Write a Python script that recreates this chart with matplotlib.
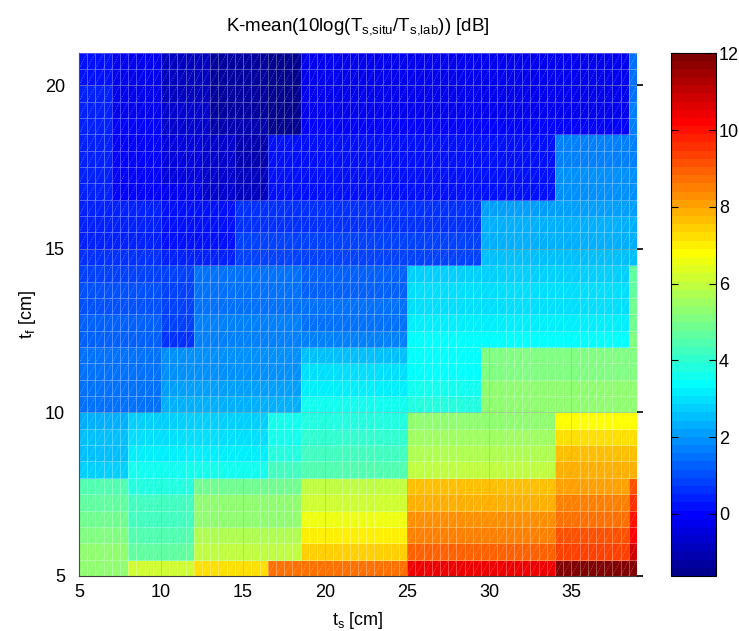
import numpy as np
import matplotlib
matplotlib.use("Agg")
import matplotlib.pyplot as plt
from matplotlib.colors import ListedColormap
from matplotlib.collections import LineCollection

plt.rcParams['font.family'] = ['Liberation Sans', 'DejaVu Sans']
plt.rcParams['mathtext.fontset'] = 'custom'
plt.rcParams['mathtext.rm'] = 'Liberation Sans'
plt.rcParams['mathtext.default'] = 'regular'

# ---- grid of the surface (cm) ----
ts_edges = np.arange(5.0, 39.01, 0.5)
tf_edges = np.arange(5.0, 21.01, 0.5)

# ---- data: bands of rows (tf ranges), column cuts (ts) and values per row (bottom->top) ----
band1_tf = (5.0, 5.5)
band1_cuts = [8, 12, 16.5, 25, 34, 39]
band1_vals = [[5.3, 6.2, 7.2, 8.7, 10.4, 11.9]]

band2_tf = (5.5, 8.0)
band2_cuts = [8, 12, 18.5, 25, 34, 38.5, 39]
band2_vals = [[5.2, 4.6, 6.0, 7.4, 9.0, 9.3, 10.8],
              [5.0, 4.5, 5.7, 7.1, 8.6, 9.1, 10.3],
              [4.8, 4.3, 5.4, 6.5, 8.3, 8.8, 10.0],
              [4.6, 4.2, 5.2, 6.2, 7.9, 8.4, 9.6],
              [4.5, 3.9, 4.8, 5.9, 7.6, 8.1, 9.2]]

band3_tf = (8.0, 10.0)
band3_cuts = [8, 16.5, 18.5, 25, 34, 39]
band3_vals = [[2.8, 3.5, 4.2, 4.5, 6.0, 7.9],
              [2.6, 3.1, 3.9, 4.3, 5.7, 7.6],
              [2.5, 2.9, 3.7, 4.1, 5.5, 7.2],
              [2.3, 2.8, 3.5, 3.9, 5.2, 6.9]]

band4_tf = (10.0, 12.0)
band4_cuts = [10, 18.5, 25, 29.5, 39]
band4_vals = [[1.5, 2.3, 3.5, 3.8, 5.4],
              [1.5, 2.1, 3.1, 3.6, 5.2],
              [1.4, 2.0, 2.9, 3.4, 5.1],
              [1.4, 1.9, 2.6, 3.3, 5.0]]

band5_tf = (12.0, 14.5)
band5_cuts = [10, 12, 18.5, 25, 38.5, 39]
band5_vals = [[1.3, 0.7, 1.6, 1.6, 3.4, 5.0],
              [1.2, 0.8, 1.6, 1.5, 3.2, 4.9],
              [1.1, 0.9, 1.5, 1.4, 3.0, 4.8],
              [1.0, 0.9, 1.5, 1.3, 2.9, 4.7],
              [0.9, 0.9, 1.4, 1.2, 2.8, 4.6]]

band6_tf = (14.5, 16.5)
band6_cuts = [10, 14.5, 29.5, 39]
band6_vals = [[0.55, 0.3, 0.8, 2.5],
              [0.5, 0.25, 0.8, 2.4],
              [0.45, 0.2, 0.7, 2.3],
              [0.4, 0.15, 0.7, 2.2]]

band7_tf = (16.5, 18.5)
band7_cuts = [7, 10, 12.5, 14.5, 16.5, 34, 39]
band7_vals = [[0.45, 0.05, -0.3, -0.6, -0.9, 0.25, 1.8],
              [0.4, 0.0, -0.35, -0.65, -0.95, 0.2, 1.8],
              [0.35, -0.05, -0.4, -0.7, -1.0, 0.15, 1.7],
              [0.3, -0.1, -0.45, -0.75, -1.05, 0.1, 1.7]]

band8_tf = (18.5, 21.0)
band8_cuts = [7, 10, 13, 16.5, 18.5, 38.5, 39]
band8_vals = [[0.4, -0.1, -0.7, -1.15, -1.5, -0.1, 1.6],
              [0.35, -0.15, -0.75, -1.2, -1.55, -0.15, 1.6],
              [0.3, -0.2, -0.8, -1.25, -1.55, -0.2, 1.5],
              [0.25, -0.25, -0.85, -1.3, -1.6, -0.2, 1.5],
              [0.2, -0.3, -0.9, -1.3, -1.6, -0.25, 1.5]]

bands = [(band1_tf, band1_cuts, band1_vals), (band2_tf, band2_cuts, band2_vals),
         (band3_tf, band3_cuts, band3_vals), (band4_tf, band4_cuts, band4_vals),
         (band5_tf, band5_cuts, band5_vals), (band6_tf, band6_cuts, band6_vals),
         (band7_tf, band7_cuts, band7_vals), (band8_tf, band8_cuts, band8_vals)]

c_min, c_max = -1.62, 12.02
ts_ticks = [5, 10, 15, 20, 25, 30, 35]
tf_ticks = [5, 10, 15, 20]
cb_ticks = [0, 2, 4, 6, 8, 10, 12]

# ---- assemble matrix ----
ts_c = 0.5 * (ts_edges[:-1] + ts_edges[1:])
tf_c = 0.5 * (tf_edges[:-1] + tf_edges[1:])
Z = np.full((len(tf_c), len(ts_c)), np.nan)
for (tf0, tf1), cuts, vals in bands:
    rows = np.where((tf_c > tf0) & (tf_c < tf1))[0]
    seg = np.minimum(np.searchsorted(cuts, ts_c, side='left'), len(cuts) - 1)
    for k, i in enumerate(rows):
        rowvals = vals[k] if k < len(vals) else vals[-1]
        Z[i, :] = np.array(rowvals)[seg]


def matlab_jet(m=64):
    n = int(np.ceil(m / 4))
    u = np.concatenate([np.arange(1, n + 1) / n, np.ones(n - 1), np.arange(n, 0, -1) / n])
    g = int(np.ceil(n / 2)) - (1 if m % 4 == 1 else 0) + np.arange(1, len(u) + 1)
    r = g + n
    b = g - n
    J = np.zeros((m, 3))
    k = r <= m; J[r[k] - 1, 0] = u[k]
    k = g <= m; J[g[k] - 1, 1] = u[k]
    k = b >= 1; J[b[k] - 1, 2] = u[k]
    return ListedColormap(J)

cmap = matlab_jet(64)

fig = plt.figure(figsize=(7.39, 6.31), dpi=100)
ax = fig.add_axes([79 / 739, 1 - 576 / 631, (637 - 79) / 739, (576 - 52.5) / 631])
cax = fig.add_axes([671 / 739, 1 - 576 / 631, 45 / 739, (576 - 52.5) / 631])

mesh = ax.pcolormesh(ts_edges, tf_edges, Z, cmap=cmap, vmin=c_min, vmax=c_max,
                     edgecolors=(1, 1, 1, 0.3), linewidth=0.6)

# facet diagonals
X0, Y0 = np.meshgrid(ts_edges[:-1], tf_edges[:-1])
X1, Y1 = np.meshgrid(ts_edges[1:], tf_edges[1:])
segs = np.stack([np.stack([X0.ravel(), Y0.ravel()], 1), np.stack([X1.ravel(), Y1.ravel()], 1)], 1)
ax.add_collection(LineCollection(segs, colors=[(1, 1, 1, 0.33)], linewidths=0.6,
                                 linestyles=[(0, (1.5, 1.5))]))

ax.set_xlim(5, 39)
ax.set_ylim(5, 21)
ax.set_xticks(ts_ticks)
ax.set_yticks(tf_ticks)
ax.grid(True, color=(0.45, 0.45, 0.45), alpha=0.35, linewidth=0.6)
ax.set_axisbelow(False)
ax.tick_params(axis='x', direction='in', length=0, labelsize=13, pad=6)
ax.tick_params(axis='y', direction='out', length=0, labelsize=13, pad=6)
ax.tick_params(axis='y', which='major', right=True, length=4, width=1.2, color='black')
ax.yaxis.set_tick_params(which='major', left=False)
ax.spines['top'].set_visible(False)
ax.spines['right'].set_visible(False)
for s in ('left', 'bottom'):
    ax.spines[s].set_linewidth(0.8)
    ax.spines[s].set_color((0.25, 0.25, 0.25))

ax.set_title('K-mean(10log(T$_{s{,}situ}$/T$_{s{,}lab}$)) [dB]', fontsize=13.5, pad=16)
ax.set_xlabel('t$_s$ [cm]', fontsize=13, labelpad=6)
ax.set_ylabel('t$_f$ [cm]', fontsize=13, labelpad=5)

cb = fig.colorbar(mesh, cax=cax, ticks=cb_ticks)
cb.ax.tick_params(direction='in', length=5, left=True, right=True, labelsize=13, width=0.8, pad=2)
cb.outline.set_linewidth(0.8)

fig.savefig('out.png', dpi=100)
